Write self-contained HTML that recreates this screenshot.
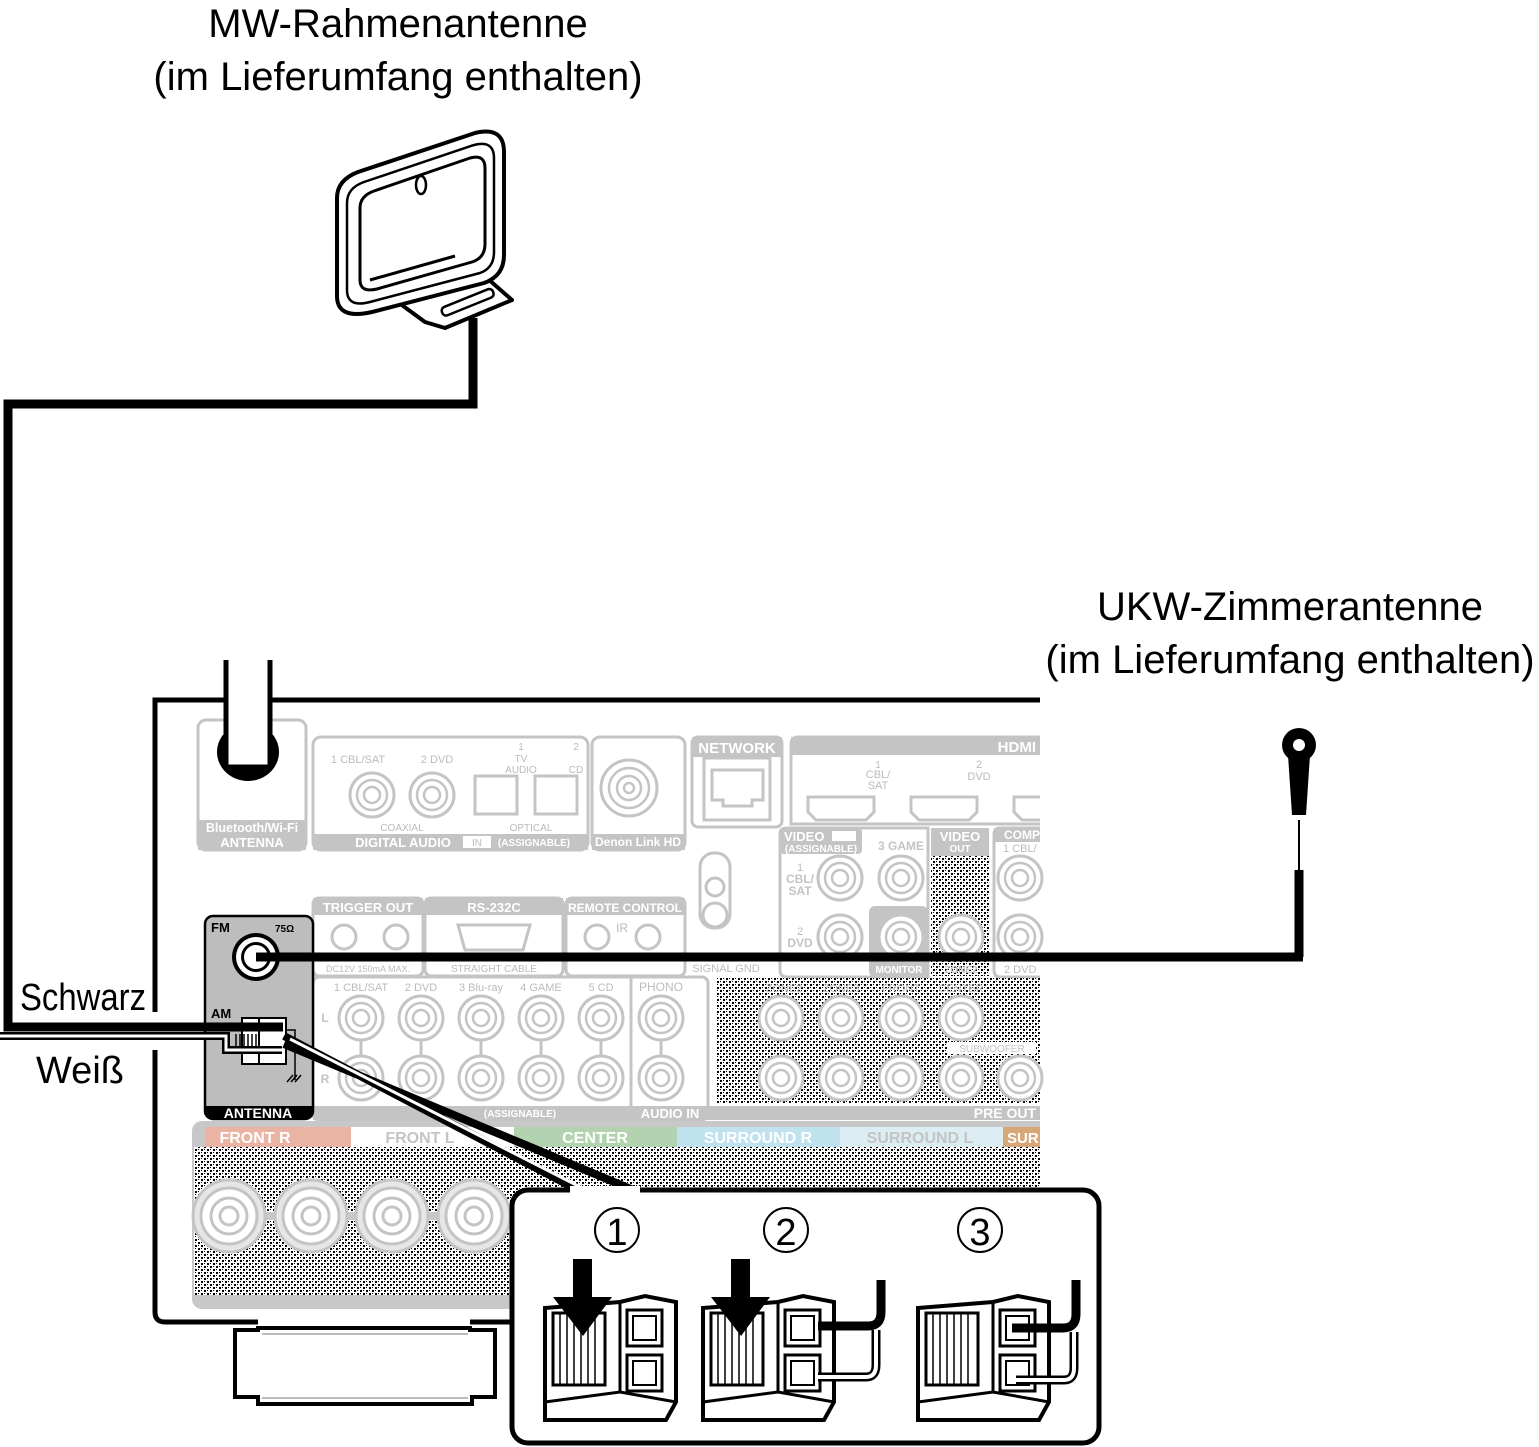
<!DOCTYPE html>
<html><head><meta charset="utf-8">
<style>
html,body{margin:0;padding:0;background:#fff;}
svg{display:block;}
text{font-family:"Liberation Sans",sans-serif;}
</style></head>
<body>
<svg width="1539" height="1447" viewBox="0 0 1539 1447" xmlns="http://www.w3.org/2000/svg">
<defs>
<pattern id="dots" width="6" height="6" patternUnits="userSpaceOnUse">
<rect width="6" height="6" fill="#fff"/>
<rect x="0" y="0" width="2" height="2" fill="#000"/><rect x="3" y="3" width="2" height="2" fill="#000"/>
<rect x="3" y="0" width="1" height="1" fill="#000"/><rect x="0" y="3" width="1" height="1" fill="#000"/>
</pattern>
<g id="jack"><circle r="22" fill="#fff" stroke="#c4c4c4" stroke-width="3"/><circle r="15" fill="none" stroke="#c4c4c4" stroke-width="2.5"/><circle r="8" fill="none" stroke="#c4c4c4" stroke-width="2.5"/></g>
<g id="post"><circle r="36" fill="#e6e6e6" stroke="#c4c4c4" stroke-width="3"/><circle r="28" fill="#fff" stroke="#c4c4c4" stroke-width="3"/><circle r="18" fill="none" stroke="#c4c4c4" stroke-width="3"/><circle r="9" fill="none" stroke="#c4c4c4" stroke-width="3"/></g>
<g id="block">
<path d="M545,1308 L620,1302 L645,1296 L676,1302 L676,1402 L666,1420 L545,1420 Z" fill="#fff" stroke="#000" stroke-width="4"/>
<path d="M545,1402 L620,1392 L676,1402" fill="none" stroke="#000" stroke-width="3"/>
<line x1="620" y1="1302" x2="620" y2="1392" stroke="#000" stroke-width="3"/>
<rect x="553" y="1313" width="52" height="72" fill="#fff" stroke="#000" stroke-width="3"/>
<path d="M560,1313 V1385 M567,1313 V1385 M574,1313 V1385 M581,1313 V1385 M588,1313 V1385 M595,1313 V1385" stroke="#000" stroke-width="1.5"/>
<rect x="627" y="1310" width="35" height="36" fill="#fff" stroke="#000" stroke-width="3"/>
<rect x="633" y="1316" width="23" height="24" fill="#fff" stroke="#000" stroke-width="2"/>
<rect x="627" y="1355" width="35" height="36" fill="#fff" stroke="#000" stroke-width="3"/>
<rect x="633" y="1361" width="23" height="24" fill="#fff" stroke="#000" stroke-width="2"/>
</g>
</defs>

<!-- Titles -->
<text x="398" y="37" font-size="40" text-anchor="middle">MW-Rahmenantenne</text>
<text x="398" y="90" font-size="40" text-anchor="middle">(im Lieferumfang enthalten)</text>
<text x="1290" y="620" font-size="40" text-anchor="middle">UKW-Zimmerantenne</text>
<text x="1290" y="673" font-size="40" text-anchor="middle">(im Lieferumfang enthalten)</text>

<!-- MW antenna -->
<path d="M395,300 L480,272 L512,300 L445,328 L425,322 Z" fill="#fff" stroke="#000" stroke-width="4" stroke-linejoin="round"/>
<rect x="440" y="298" width="55" height="9" rx="4" transform="rotate(-22 467 302)" fill="#fff" stroke="#000" stroke-width="2.5"/>
<path d="M337,198 Q337,180 358,172 L475,133 Q504,126 504,152 L504,255 Q504,276 484,283 L372,312 Q337,320 337,296 Z" fill="#fff" stroke="#000" stroke-width="4"/>
<path d="M347,203 Q347,188 364,182 L474,145 Q494,140 494,158 L494,252 Q494,268 480,273 L370,302 Q347,308 347,290 Z" fill="none" stroke="#000" stroke-width="2.5"/>
<path d="M360,208 Q360,196 374,191 L470,158 Q485,154 485,168 L485,244 Q485,258 472,262 L377,289 Q360,293 360,280 Z" fill="#fff" stroke="#000" stroke-width="3"/>
<path d="M370,280 L455,256" stroke="#000" stroke-width="3"/>
<ellipse cx="421" cy="185" rx="5" ry="9" fill="#fff" stroke="#000" stroke-width="2.5"/>

<!-- MW cable -->
<path d="M473,318 L473,404 L8,404 L8,1027 L283,1027" fill="none" stroke="#000" stroke-width="9"/>
<text x="20" y="1010" font-size="38" textLength="126" lengthAdjust="spacingAndGlyphs">Schwarz</text>
<text x="36" y="1083" font-size="38">Weiß</text>

<!-- Receiver outline -->
<path d="M1040,700 L155,700 L155,1012 M155,1050 L155,1312 Q155,1322 165,1322 L258,1322 M470,1322 L512,1322" fill="none" stroke="#000" stroke-width="5"/>
<path d="M235,1330 L258,1330 L258,1328 L470,1328 L470,1330 L495,1330 L495,1397 L472,1397 L472,1404 L258,1404 L258,1397 L235,1397 Z" fill="#fff" stroke="#000" stroke-width="4"/>
<line x1="262" y1="1334" x2="468" y2="1334" stroke="#bbb" stroke-width="2"/>
<line x1="262" y1="1398" x2="468" y2="1398" stroke="#bbb" stroke-width="2"/>

<!-- Wi-Fi antenna -->
<rect x="198" y="720" width="108" height="130" rx="8" fill="#fff" stroke="#c4c4c4" stroke-width="3"/>
<rect x="198" y="820" width="108" height="30" fill="#c4c4c4"/>
<text x="252" y="832" font-size="12.5" font-weight="bold" fill="#fff" text-anchor="middle">Bluetooth/Wi-Fi</text>
<text x="252" y="847" font-size="13" font-weight="bold" fill="#fff" text-anchor="middle">ANTENNA</text>
<ellipse cx="248" cy="752" rx="31" ry="29" fill="#000"/>
<rect x="228" y="655" width="40" height="110" fill="#fff"/>
<path d="M226,660 V767 H270 V660" fill="none" stroke="#000" stroke-width="5"/>

<!-- Digital audio -->
<rect x="313" y="737" width="275" height="113" rx="8" fill="#fff" stroke="#c4c4c4" stroke-width="3"/>
<rect x="313" y="834" width="275" height="16" fill="#c4c4c4"/>
<text x="358" y="763" font-size="11" fill="#bbb" text-anchor="middle">1 CBL/SAT</text>
<text x="437" y="763" font-size="11" fill="#bbb" text-anchor="middle">2 DVD</text>
<text x="521" y="750" font-size="10" fill="#bbb" text-anchor="middle">1</text>
<text x="521" y="762" font-size="10" fill="#bbb" text-anchor="middle">TV</text>
<text x="521" y="773" font-size="10" fill="#bbb" text-anchor="middle">AUDIO</text>
<text x="576" y="750" font-size="10" fill="#bbb" text-anchor="middle">2</text>
<text x="576" y="773" font-size="10" fill="#bbb" text-anchor="middle">CD</text>
<use href="#jack" x="372" y="795"/><use href="#jack" x="432" y="795"/>
<rect x="475" y="776" width="42" height="38" fill="#fff" stroke="#c4c4c4" stroke-width="3"/>
<rect x="535" y="776" width="42" height="38" fill="#fff" stroke="#c4c4c4" stroke-width="3"/>
<text x="402" y="831" font-size="10" fill="#bbb" text-anchor="middle">COAXIAL</text>
<text x="531" y="831" font-size="10" fill="#bbb" text-anchor="middle">OPTICAL</text>
<text x="403" y="847" font-size="13" font-weight="bold" fill="#fff" text-anchor="middle">DIGITAL AUDIO</text>
<rect x="463" y="836" width="28" height="12" fill="#fff"/>
<text x="477" y="846" font-size="10" fill="#bbb" text-anchor="middle">IN</text>
<text x="534" y="846" font-size="10" font-weight="bold" fill="#fff" text-anchor="middle">(ASSIGNABLE)</text>
<rect x="592" y="737" width="93" height="113" rx="8" fill="#fff" stroke="#c4c4c4" stroke-width="3"/>
<rect x="592" y="834" width="93" height="16" fill="#c4c4c4"/>
<text x="638" y="846" font-size="12" font-weight="bold" fill="#fff" text-anchor="middle">Denon Link HD</text>
<circle cx="629" cy="788" r="28" fill="#fff" stroke="#c4c4c4" stroke-width="3"/><circle cx="629" cy="788" r="20" fill="none" stroke="#c4c4c4" stroke-width="2.5"/><circle cx="629" cy="788" r="12" fill="none" stroke="#c4c4c4" stroke-width="2.5"/><circle cx="629" cy="788" r="5" fill="none" stroke="#c4c4c4" stroke-width="2.5"/>

<!-- Network -->
<rect x="692" y="737" width="90" height="90" rx="6" fill="#fff" stroke="#c4c4c4" stroke-width="3"/>
<rect x="692" y="737" width="90" height="20" fill="#c4c4c4"/>
<text x="737" y="753" font-size="15" font-weight="bold" fill="#fff" text-anchor="middle">NETWORK</text>
<rect x="704" y="758" width="66" height="62" fill="#fff" stroke="#c4c4c4" stroke-width="3"/>
<path d="M712,770 H763 V800 H752 V806 H723 V800 H712 Z" fill="none" stroke="#c4c4c4" stroke-width="3"/>

<!-- HDMI -->
<path d="M1040,737 L798,737 Q791,737 791,745 L791,824 L1040,824" fill="#fff" stroke="#c4c4c4" stroke-width="3"/>
<rect x="791" y="737" width="249" height="18" fill="#c4c4c4"/>
<text x="1036" y="752" font-size="15" font-weight="bold" fill="#fff" text-anchor="end">HDMI</text>
<text x="878" y="768" font-size="10" fill="#bbb" text-anchor="middle">1</text>
<text x="878" y="778" font-size="11" fill="#bbb" text-anchor="middle">CBL/</text>
<text x="878" y="789" font-size="11" fill="#bbb" text-anchor="middle">SAT</text>
<text x="979" y="768" font-size="11" fill="#bbb" text-anchor="middle">2</text>
<text x="979" y="780" font-size="11" fill="#bbb" text-anchor="middle">DVD</text>
<path d="M808,797 H874 V812 L866,820 H816 L808,812 Z" fill="#fff" stroke="#c4c4c4" stroke-width="3"/>
<path d="M911,797 H977 V812 L969,820 H919 L911,812 Z" fill="#fff" stroke="#c4c4c4" stroke-width="3"/>
<path d="M1040,797 H1014 V812 L1022,820 H1040" fill="#fff" stroke="#c4c4c4" stroke-width="3"/>

<!-- Video -->
<path d="M780,834 Q780,828 787,828 L928,828 L928,977 L787,977 Q780,977 780,970 Z" fill="#fff" stroke="#c4c4c4" stroke-width="3"/>
<rect x="780" y="828" width="82" height="26" rx="4" fill="#c4c4c4"/>
<text x="784" y="841" font-size="13" font-weight="bold" fill="#fff">VIDEO</text>
<rect x="832" y="831" width="24" height="10" fill="#fff"/>
<text x="821" y="852" font-size="10" font-weight="bold" fill="#fff" text-anchor="middle">(ASSIGNABLE)</text>
<text x="901" y="850" font-size="12" font-weight="bold" fill="#c4c4c4" text-anchor="middle">3 GAME</text>
<text x="800" y="871" font-size="11" fill="#bbb" text-anchor="middle">1</text>
<text x="800" y="883" font-size="12" font-weight="bold" fill="#c4c4c4" text-anchor="middle">CBL/</text>
<text x="800" y="895" font-size="12" font-weight="bold" fill="#c4c4c4" text-anchor="middle">SAT</text>
<text x="800" y="935" font-size="11" fill="#bbb" text-anchor="middle">2</text>
<text x="800" y="947" font-size="12" font-weight="bold" fill="#c4c4c4" text-anchor="middle">DVD</text>
<rect x="869" y="906" width="59" height="71" rx="6" fill="#c4c4c4"/>
<text x="899" y="973" font-size="10" font-weight="bold" fill="#fff" text-anchor="middle">MONITOR</text>
<rect x="931" y="856" width="58" height="120" fill="url(#dots)"/>
<rect x="931" y="828" width="58" height="28" fill="#c4c4c4"/>
<text x="960" y="841" font-size="13" font-weight="bold" fill="#fff" text-anchor="middle">VIDEO</text>
<text x="960" y="852" font-size="10" font-weight="bold" fill="#fff" text-anchor="middle">OUT</text>
<text x="961" y="973" font-size="10" font-weight="bold" fill="#c4c4c4" text-anchor="middle">ZONE2</text>
<path d="M1040,828 L1000,828 Q994,828 994,835 L994,970 Q994,977 1000,977 L1040,977" fill="#fff" stroke="#c4c4c4" stroke-width="3"/>
<rect x="994" y="828" width="46" height="14" fill="#c4c4c4"/>
<text x="1004" y="839" font-size="12" font-weight="bold" fill="#fff">COMP</text>
<text x="1003" y="852" font-size="11" fill="#bbb">1 CBL/</text>
<text x="1004" y="973" font-size="11" fill="#bbb">2 DVD</text>
<use href="#jack" x="840" y="878"/><use href="#jack" x="901" y="878"/><use href="#jack" x="1020" y="878"/>
<use href="#jack" x="840" y="937"/><use href="#jack" x="901" y="937"/><use href="#jack" x="961" y="937"/><use href="#jack" x="1020" y="937"/>

<!-- Signal GND -->
<rect x="700" y="853" width="30" height="75" rx="14" fill="#fff" stroke="#c4c4c4" stroke-width="3"/>
<circle cx="715" cy="887" r="9" fill="none" stroke="#c4c4c4" stroke-width="3"/>
<circle cx="715" cy="915" r="12" fill="none" stroke="#c4c4c4" stroke-width="3"/>
<text x="726" y="972" font-size="11" fill="#bbb" text-anchor="middle">SIGNAL GND</text>

<!-- Trigger / RS232 / remote -->
<rect x="313" y="898" width="110" height="78" rx="6" fill="#fff" stroke="#c4c4c4" stroke-width="3"/>
<rect x="313" y="898" width="110" height="17" fill="#c4c4c4"/>
<text x="368" y="912" font-size="13" font-weight="bold" fill="#fff" text-anchor="middle">TRIGGER OUT</text>
<text x="368" y="972" font-size="9" fill="#bbb" text-anchor="middle">DC12V 150mA MAX.</text>
<circle cx="344" cy="937" r="12" fill="#fff" stroke="#c4c4c4" stroke-width="3"/><circle cx="396" cy="937" r="12" fill="#fff" stroke="#c4c4c4" stroke-width="3"/>
<rect x="425" y="898" width="138" height="78" rx="6" fill="#fff" stroke="#c4c4c4" stroke-width="3"/>
<rect x="425" y="898" width="138" height="17" fill="#c4c4c4"/>
<text x="494" y="912" font-size="13" font-weight="bold" fill="#fff" text-anchor="middle">RS-232C</text>
<path d="M458,925 H530 L523,950 H465 Z" fill="#fff" stroke="#c4c4c4" stroke-width="3"/>
<text x="494" y="972" font-size="10" fill="#bbb" text-anchor="middle">STRAIGHT CABLE</text>
<rect x="566" y="898" width="119" height="78" rx="6" fill="#fff" stroke="#c4c4c4" stroke-width="3"/>
<rect x="566" y="898" width="119" height="17" fill="#c4c4c4"/>
<text x="625" y="912" font-size="12" font-weight="bold" fill="#fff" text-anchor="middle">REMOTE CONTROL</text>
<text x="622" y="932" font-size="12" fill="#bbb" text-anchor="middle">IR</text>
<circle cx="597" cy="937" r="12" fill="#fff" stroke="#c4c4c4" stroke-width="3"/><circle cx="648" cy="937" r="12" fill="#fff" stroke="#c4c4c4" stroke-width="3"/>

<!-- Analog audio -->
<rect x="313" y="977" width="395" height="143" rx="6" fill="#fff" stroke="#c4c4c4" stroke-width="3"/>
<rect x="313" y="1106" width="727" height="14" fill="#c4c4c4"/>
<line x1="631" y1="977" x2="631" y2="1106" stroke="#c4c4c4" stroke-width="3"/>
<text x="361" y="991" font-size="11" fill="#bbb" text-anchor="middle">1 CBL/SAT</text>
<text x="421" y="991" font-size="11" fill="#bbb" text-anchor="middle">2 DVD</text>
<text x="481" y="991" font-size="11" fill="#bbb" text-anchor="middle">3 Blu-ray</text>
<text x="541" y="991" font-size="11" fill="#bbb" text-anchor="middle">4 GAME</text>
<text x="601" y="991" font-size="11" fill="#bbb" text-anchor="middle">5 CD</text>
<text x="661" y="991" font-size="12" fill="#bbb" text-anchor="middle">PHONO</text>
<text x="325" y="1022" font-size="12" font-weight="bold" fill="#c4c4c4" text-anchor="middle">L</text>
<text x="325" y="1083" font-size="12" font-weight="bold" fill="#c4c4c4" text-anchor="middle">R</text>
<g stroke="#c4c4c4" stroke-width="3">
<line x1="361" y1="1018" x2="361" y2="1078"/><line x1="421" y1="1018" x2="421" y2="1078"/><line x1="481" y1="1018" x2="481" y2="1078"/><line x1="541" y1="1018" x2="541" y2="1078"/><line x1="601" y1="1018" x2="601" y2="1078"/><line x1="661" y1="1018" x2="661" y2="1078"/>
</g>
<use href="#jack" x="361" y="1018"/><use href="#jack" x="421" y="1018"/><use href="#jack" x="481" y="1018"/><use href="#jack" x="541" y="1018"/><use href="#jack" x="601" y="1018"/><use href="#jack" x="661" y="1018"/>
<use href="#jack" x="361" y="1078"/><use href="#jack" x="421" y="1078"/><use href="#jack" x="481" y="1078"/><use href="#jack" x="541" y="1078"/><use href="#jack" x="601" y="1078"/><use href="#jack" x="661" y="1078"/>
<text x="520" y="1117" font-size="10" font-weight="bold" fill="#fff" text-anchor="middle">(ASSIGNABLE)</text>
<text x="670" y="1118" font-size="13" font-weight="bold" fill="#fff" text-anchor="middle">AUDIO IN</text>

<!-- Pre out -->
<rect x="716" y="978" width="324" height="126" fill="url(#dots)"/>
<text x="784" y="992" font-size="11" fill="#c4c4c4" text-anchor="middle">ZONE2</text>
<text x="841" y="992" font-size="11" fill="#c4c4c4" text-anchor="middle">ZONE3</text>
<text x="901" y="992" font-size="11" fill="#c4c4c4" text-anchor="middle">FRONT</text>
<text x="961" y="992" font-size="11" fill="#c4c4c4" text-anchor="middle">CENTER</text>
<rect x="948" y="1042" width="88" height="12" fill="#fff"/>
<text x="992" y="1052" font-size="10" fill="#c4c4c4" text-anchor="middle">SUBWOOFER</text>
<use href="#jack" x="781" y="1018"/><use href="#jack" x="841" y="1018"/><use href="#jack" x="901" y="1018"/><use href="#jack" x="961" y="1018"/>
<use href="#jack" x="781" y="1078"/><use href="#jack" x="841" y="1078"/><use href="#jack" x="901" y="1078"/><use href="#jack" x="961" y="1078"/><use href="#jack" x="1020" y="1078"/>
<text x="1036" y="1118" font-size="14" font-weight="bold" fill="#fff" text-anchor="end">PRE OUT</text>

<!-- Speakers -->
<rect x="192" y="1121" width="900" height="188" rx="10" fill="#c8c8c8"/>
<rect x="194" y="1147" width="846" height="148" fill="url(#dots)"/>
<rect x="205" y="1127" width="146" height="20" fill="#e9b4a3"/>
<rect x="351" y="1127" width="163" height="20" fill="#fff"/>
<rect x="514" y="1127" width="163" height="20" fill="#b3d3b0"/>
<rect x="677" y="1127" width="163" height="20" fill="#bfe2ee"/>
<rect x="840" y="1127" width="163" height="20" fill="#dcedf3"/>
<rect x="1003" y="1127" width="37" height="20" fill="#d7a777"/>
<rect x="1040" y="1115" width="60" height="200" fill="#fff"/>
<text x="255" y="1143" font-size="16" font-weight="bold" fill="#fff" text-anchor="middle">FRONT R</text>
<text x="420" y="1143" font-size="16" font-weight="bold" fill="#c4c4c4" text-anchor="middle">FRONT L</text>
<text x="595" y="1143" font-size="16" font-weight="bold" fill="#fff" text-anchor="middle">CENTER</text>
<text x="758" y="1143" font-size="16" font-weight="bold" fill="#fff" text-anchor="middle">SURROUND R</text>
<text x="920" y="1143" font-size="16" font-weight="bold" fill="#c4c4c4" text-anchor="middle">SURROUND L</text>
<text x="1007" y="1143" font-size="15" font-weight="bold" fill="#fff">SUR</text>
<line x1="229" y1="1216" x2="474" y2="1216" stroke="#c8c8c8" stroke-width="8"/>
<use href="#post" x="229" y="1216"/><use href="#post" x="311" y="1216"/><use href="#post" x="392" y="1216"/><use href="#post" x="474" y="1216"/>

<!-- Antenna panel -->
<rect x="205" y="916" width="108" height="203" rx="8" fill="#bdbdbd" stroke="#000" stroke-width="2.5"/>
<path d="M205,1106 H313 V1111 Q313,1119 305,1119 H213 Q205,1119 205,1111 Z" fill="#000"/>
<text x="258" y="1118" font-size="14" font-weight="bold" fill="#fff" text-anchor="middle">ANTENNA</text>
<text x="211" y="932" font-size="13" font-weight="bold">FM</text>
<text x="275" y="932" font-size="10" font-weight="bold">75Ω</text>
<text x="211" y="1018" font-size="13" font-weight="bold">AM</text>
<circle cx="256" cy="957" r="24" fill="#000"/><circle cx="256" cy="957" r="20" fill="#fff"/><circle cx="256" cy="957" r="15" fill="#000"/><circle cx="256" cy="957" r="12" fill="#fff"/>
<rect x="242" y="1018" width="44" height="46" fill="#fff" stroke="#000" stroke-width="2"/>
<line x1="259" y1="1018" x2="259" y2="1064" stroke="#000" stroke-width="2"/>
<path d="M286,1030 H295 V1080 M287,1082 l6,-7 M291,1082 l6,-7 M295,1082 l6,-7" fill="none" stroke="#000" stroke-width="1.5"/>
<path d="M236,1034 V1048 M240,1034 V1048 M244,1034 V1048 M248,1034 V1048 M252,1034 V1048 M256,1034 V1048" stroke="#000" stroke-width="1.5"/>

<!-- wires on top -->
<line x1="8" y1="1027" x2="283" y2="1027" stroke="#000" stroke-width="9"/>
<path d="M0,1036 L226,1036 L226,1050 L282,1050" fill="none" stroke="#000" stroke-width="8"/>
<path d="M0,1036 L226,1036 L226,1050 L282,1050" fill="none" stroke="#fff" stroke-width="3"/>

<!-- FM antenna -->
<line x1="256" y1="957" x2="1303" y2="957" stroke="#000" stroke-width="9"/>
<line x1="1299" y1="870" x2="1299" y2="957" stroke="#000" stroke-width="9"/>
<line x1="1299" y1="820" x2="1299" y2="875" stroke="#000" stroke-width="2"/>
<path d="M1288,755 L1310,755 L1306,815 L1292,815 Z" fill="#000"/>
<circle cx="1299" cy="745" r="17" fill="#000"/><circle cx="1299" cy="745" r="6" fill="#fff"/>

<!-- callout lines -->
<path d="M284,1036 L578,1190 M284,1044 L638,1192" stroke="#000" stroke-width="8"/>
<path d="M290,1039 L590,1192" stroke="#fff" stroke-width="3"/>

<!-- Inset -->
<rect x="512" y="1190" width="587" height="253" rx="16" fill="#fff" stroke="#000" stroke-width="5"/>
<path d="M570,1186 L640,1186 L640,1194 L570,1194 Z" fill="#fff"/>
<circle cx="617" cy="1230" r="22" fill="#fff" stroke="#000" stroke-width="2"/>
<text x="617" y="1245" font-size="38" text-anchor="middle">1</text>
<circle cx="786" cy="1230" r="22" fill="#fff" stroke="#000" stroke-width="2"/>
<text x="786" y="1245" font-size="38" text-anchor="middle">2</text>
<circle cx="980" cy="1230" r="22" fill="#fff" stroke="#000" stroke-width="2"/>
<text x="980" y="1245" font-size="38" text-anchor="middle">3</text>

<use href="#block"/>
<use href="#block" x="158"/>
<use href="#block" x="373"/>
<path d="M573,1259 H592 V1297 H612 L583,1336 L553,1297 H573 Z" fill="#000"/>
<path d="M731,1259 H750 V1297 H770 L741,1336 L711,1297 H731 Z" fill="#000"/>
<path d="M818,1377 H866 Q876,1377 876,1365 V1330" fill="none" stroke="#000" stroke-width="9"/>
<path d="M818,1377 H866 Q876,1377 876,1365 V1330" fill="none" stroke="#fff" stroke-width="4"/>
<path d="M818,1326 H868 Q881,1326 881,1312 V1280" fill="none" stroke="#000" stroke-width="9"/>
<path d="M1016,1380 H1064 Q1074,1380 1074,1368 V1332" fill="none" stroke="#000" stroke-width="9"/>
<path d="M1016,1380 H1064 Q1074,1380 1074,1368 V1332" fill="none" stroke="#fff" stroke-width="4"/>
<path d="M1012,1328 H1063 Q1076,1328 1076,1314 V1280" fill="none" stroke="#000" stroke-width="9"/>
</svg>
</body></html>
